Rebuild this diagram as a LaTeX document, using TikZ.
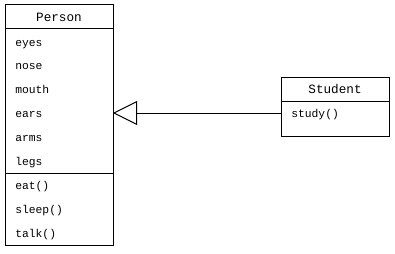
\documentclass[tikz,border=0pt]{standalone}
\usepackage{fontspec}
\setmonofont{Liberation Mono}
\usetikzlibrary{arrows.meta, positioning}
\tikzstyle{classpart} = [rectangle, draw=black, line width=0.75pt, minimum width=81pt, inner sep=0pt, outer sep=0pt]
\tikzstyle{classname} = [anchor=base, inner sep=0pt, font=\ttfamily\fontsize{9.5}{10}\selectfont]
\tikzstyle{member} = [anchor=base west, inner sep=0pt, font=\ttfamily\fontsize{8.5}{10}\selectfont]
\tikzstyle{inherit} = [line width=0.75pt, -{Triangle[open, length=18pt, width=18pt, fill=white]}]

\begin{document}
\begin{tikzpicture}[x=0.75pt, y=-0.75pt]
    \useasboundingbox (0,0) rectangle (395,253);
    % Person
    \node (personhead) [classpart, anchor=north west, minimum height=18pt] at (5,5) {};
    \node (personattr) [classpart, below=0pt of personhead, minimum height=108pt] {};
    \node (personops) [classpart, below=0pt of personattr, minimum height=54pt] {};
    \node (personname) [classname] at (59,21.5) {Person};
    \foreach \n/\y in {eyes/46, nose/69.5, mouth/93, ears/117, arms/141, legs/165} {
        \node (\n) [member] at (15,\y) {\n};
    }
    \node (eat) [member] at (15,189) {eat()};
    \node (sleep) [member] at (15,213) {sleep()};
    \node (talk) [member] at (15,237) {talk()};
    % Student
    \node (studenthead) [classpart, anchor=north west, minimum height=18pt] at (281,77) {};
    \node (studentops) [classpart, below=0pt of studenthead, minimum height=26.25pt] {};
    \node (studentname) [classname] at (335,93.5) {Student};
    \node (study) [member] at (291,117) {study()};

    \draw [inherit] (studentops.west |- 0,113) coordinate (linestart) -- (personattr.east |- linestart);
\end{tikzpicture}
\end{document}
